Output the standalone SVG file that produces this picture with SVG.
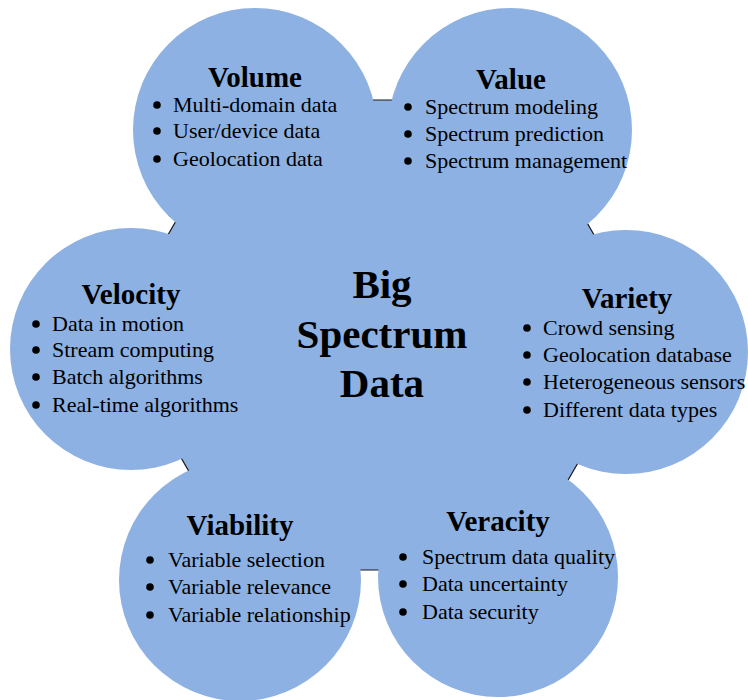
<svg xmlns="http://www.w3.org/2000/svg" width="748" height="700" viewBox="0 0 748 700">
<style>
.petal{fill:#8DB1E2;stroke:none}
.hex{fill:#8DB1E2;stroke:#1a1a1a;stroke-width:1.2}
.t{font-family:"Liberation Serif","Times New Roman",serif;font-weight:bold;font-size:29px;fill:#000;text-anchor:middle}
.c{font-family:"Liberation Serif","Times New Roman",serif;font-weight:bold;font-size:41px;fill:#000;text-anchor:middle}
.b{font-family:"Liberation Serif","Times New Roman",serif;font-size:22px;fill:#000}
.dot{fill:#000}
</style>
<rect width="748" height="700" fill="#fff"/>
<g id="center">
<polygon class="hex" points="246,100 516,100 652,335 516,570 246,570 110,335"/>
</g>
<g id="volume">
<circle class="petal" cx="255" cy="130" r="122"/>
<text class="t" x="255" y="87">Volume</text>
<circle class="dot" cx="157" cy="105" r="3.8"/><text class="b" x="173" y="112">Multi-domain data</text>
<circle class="dot" cx="157" cy="131" r="3.8"/><text class="b" x="173" y="138">User/device data</text>
<circle class="dot" cx="157" cy="159" r="3.8"/><text class="b" x="173" y="166">Geolocation data</text>
</g>
<g id="value">
<circle class="petal" cx="510" cy="130" r="122"/>
<text class="t" x="511" y="89">Value</text>
<circle class="dot" cx="408" cy="107" r="3.8"/><text class="b" x="425" y="114">Spectrum modeling</text>
<circle class="dot" cx="408" cy="134" r="3.8"/><text class="b" x="425" y="141">Spectrum prediction</text>
<circle class="dot" cx="408" cy="161" r="3.8"/><text class="b" x="425" y="168">Spectrum management</text>
</g>
<g id="velocity">
<circle class="petal" cx="131" cy="349" r="121"/>
<text class="t" x="131" y="304">Velocity</text>
<circle class="dot" cx="36" cy="324" r="3.8"/><text class="b" x="52" y="331">Data in motion</text>
<circle class="dot" cx="36" cy="350" r="3.8"/><text class="b" x="52" y="357">Stream computing</text>
<circle class="dot" cx="36" cy="377" r="3.8"/><text class="b" x="52" y="384">Batch algorithms</text>
<circle class="dot" cx="36" cy="405" r="3.8"/><text class="b" x="52" y="412">Real-time algorithms</text>
</g>
<g id="variety">
<circle class="petal" cx="626" cy="352" r="122"/>
<text class="t" x="627" y="308">Variety</text>
<circle class="dot" cx="527" cy="328" r="3.8"/><text class="b" x="543" y="335">Crowd sensing</text>
<circle class="dot" cx="527" cy="355" r="3.8"/><text class="b" x="543" y="362">Geolocation database</text>
<circle class="dot" cx="527" cy="382" r="3.8"/><text class="b" x="543" y="389">Heterogeneous sensors</text>
<circle class="dot" cx="527" cy="410" r="3.8"/><text class="b" x="543" y="417">Different data types</text>
</g>
<g id="viability">
<circle class="petal" cx="240" cy="580" r="121"/>
<text class="t" x="240" y="535">Viability</text>
<circle class="dot" cx="150" cy="560" r="3.8"/><text class="b" x="168" y="567">Variable selection</text>
<circle class="dot" cx="150" cy="587" r="3.8"/><text class="b" x="168" y="594">Variable relevance</text>
<circle class="dot" cx="150" cy="615" r="3.8"/><text class="b" x="168" y="622">Variable relationship</text>
</g>
<g id="veracity">
<circle class="petal" cx="498" cy="577" r="120"/>
<text class="t" x="498" y="531">Veracity</text>
<circle class="dot" cx="403" cy="557" r="3.8"/><text class="b" x="422" y="564">Spectrum data quality</text>
<circle class="dot" cx="403" cy="584" r="3.8"/><text class="b" x="422" y="591">Data uncertainty</text>
<circle class="dot" cx="403" cy="612" r="3.8"/><text class="b" x="422" y="619">Data security</text>
</g>
<g id="center-label">
<text class="c" x="382" y="298">Big</text>
<text class="c" x="382" y="348">Spectrum</text>
<text class="c" x="382" y="397">Data</text>
</g>
</svg>
